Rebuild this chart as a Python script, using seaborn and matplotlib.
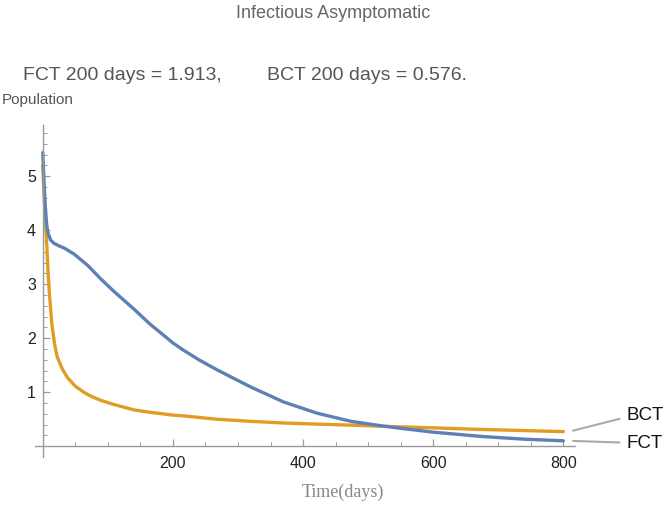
import numpy as np
import pandas as pd
import matplotlib
matplotlib.use("Agg")
import matplotlib.pyplot as plt
import seaborn as sns

# values
days_fct = [0, 2, 4, 6, 8, 12, 17, 25, 33, 48, 58, 69, 89, 110, 141, 164, 200,
            216, 240, 267, 319, 370, 422, 474, 525, 551, 600, 675, 740, 800]
fct = [5.44, 4.85, 4.40, 4.10, 3.95, 3.82, 3.76, 3.71, 3.67, 3.56, 3.46, 3.35,
       3.10, 2.86, 2.53, 2.27, 1.913, 1.78, 1.60, 1.42, 1.10, 0.82, 0.61, 0.46,
       0.37, 0.33, 0.26, 0.18, 0.13, 0.10]
days_bct = [0, 2, 4, 6, 8, 10, 14, 18, 22, 30, 38, 50, 63, 75, 89, 110, 141,
            164, 200, 218, 267, 320, 370, 420, 474, 546, 600, 675, 740, 800]
bct = [5.2, 4.6, 4.2, 3.75, 3.25, 2.85, 2.25, 1.9, 1.66, 1.43, 1.27, 1.11, 1.00,
       0.92, 0.85, 0.77, 0.67, 0.63, 0.576, 0.56, 0.50, 0.46, 0.43, 0.41, 0.39,
       0.36, 0.34, 0.31, 0.29, 0.27]

x_major = [200, 400, 600, 800]
y_major = [1, 2, 3, 4, 5]

BLUE = "#5E81B5"
ORANGE = "#E19C24"

df = pd.concat([
    pd.DataFrame({"day": days_fct, "value": fct, "series": "FCT"}),
    pd.DataFrame({"day": days_bct, "value": bct, "series": "BCT"}),
])

sns.set_style("white")
plt.rcParams["font.family"] = ["Liberation Sans", "DejaVu Sans"]

fig = plt.figure(figsize=(6.66, 5.05), dpi=100)
ax = fig.add_axes([35 / 666, 48 / 505, 540 / 666, 332 / 505])

sns.lineplot(data=df, x="day", y="value", hue="series", sort=False,
             palette={"FCT": BLUE, "BCT": ORANGE}, linewidth=2.4,
             legend=False, ax=ax, hue_order=["BCT", "FCT"])

ax.set_xlim(-12, 818)
ax.set_ylim(-0.2, 5.95)
for s in ["top", "right"]:
    ax.spines[s].set_visible(False)
ax.spines["left"].set_position(("data", 0))
ax.spines["bottom"].set_position(("data", 0))
for s in ["left", "bottom"]:
    ax.spines[s].set_color("#9a9a9a")
    ax.spines[s].set_linewidth(1.0)

ax.set_xticks(x_major)
ax.set_xticks(np.arange(50, 801, 50), minor=True)
ax.set_yticks(y_major)
ax.set_yticks(np.arange(0.2, 5.81, 0.2), minor=True)
ax.tick_params(which="both", direction="in", color="#9a9a9a", labelcolor="#222222",
               labelsize=11.5, bottom=True, left=True)
ax.tick_params(which="major", length=5, width=0.9)
ax.tick_params(which="minor", length=3, width=0.7)
ax.tick_params(axis="x", which="major", pad=7)
ax.tick_params(axis="y", which="major", pad=5)
ax.set_xlabel("")
ax.set_ylabel("")

fig.text(333 / 666, 1 - 13 / 505, "Infectious Asymptomatic", ha="center", va="center",
         fontsize=13, color="#666666")
fig.text(23 / 666, 1 - 76 / 505, "FCT 200 days = 1.913,", ha="left", va="center",
         fontsize=14, color="#555555")
fig.text(267 / 666, 1 - 76 / 505, "BCT 200 days = 0.576.", ha="left", va="center",
         fontsize=14, color="#555555")
fig.text(2 / 666, 1 - 100 / 505, "Population", ha="left", va="center",
         fontsize=11, color="#555555")
fig.text(343 / 666, 1 - 492 / 505, "Time(days)", ha="center", va="center",
         fontsize=13, color="#888888", family=["Liberation Serif", "DejaVu Serif"])

# curve labels with leader lines
for name, yv, ty in [("BCT", bct[-1], 505 - 415), ("FCT", fct[-1], 505 - 443)]:
    ax.annotate(name, xy=(800, yv), xycoords="data", xytext=(627, ty),
                textcoords="figure pixels", ha="left", va="center", fontsize=13.5,
                color="#111111",
                arrowprops=dict(arrowstyle="-", color="#aaaaaa", lw=1.5,
                                shrinkA=3, shrinkB=7,
                                connectionstyle="arc,angleA=180,angleB=0,armA=11,armB=6,rad=4"))

fig.savefig("out.png", dpi=100)
